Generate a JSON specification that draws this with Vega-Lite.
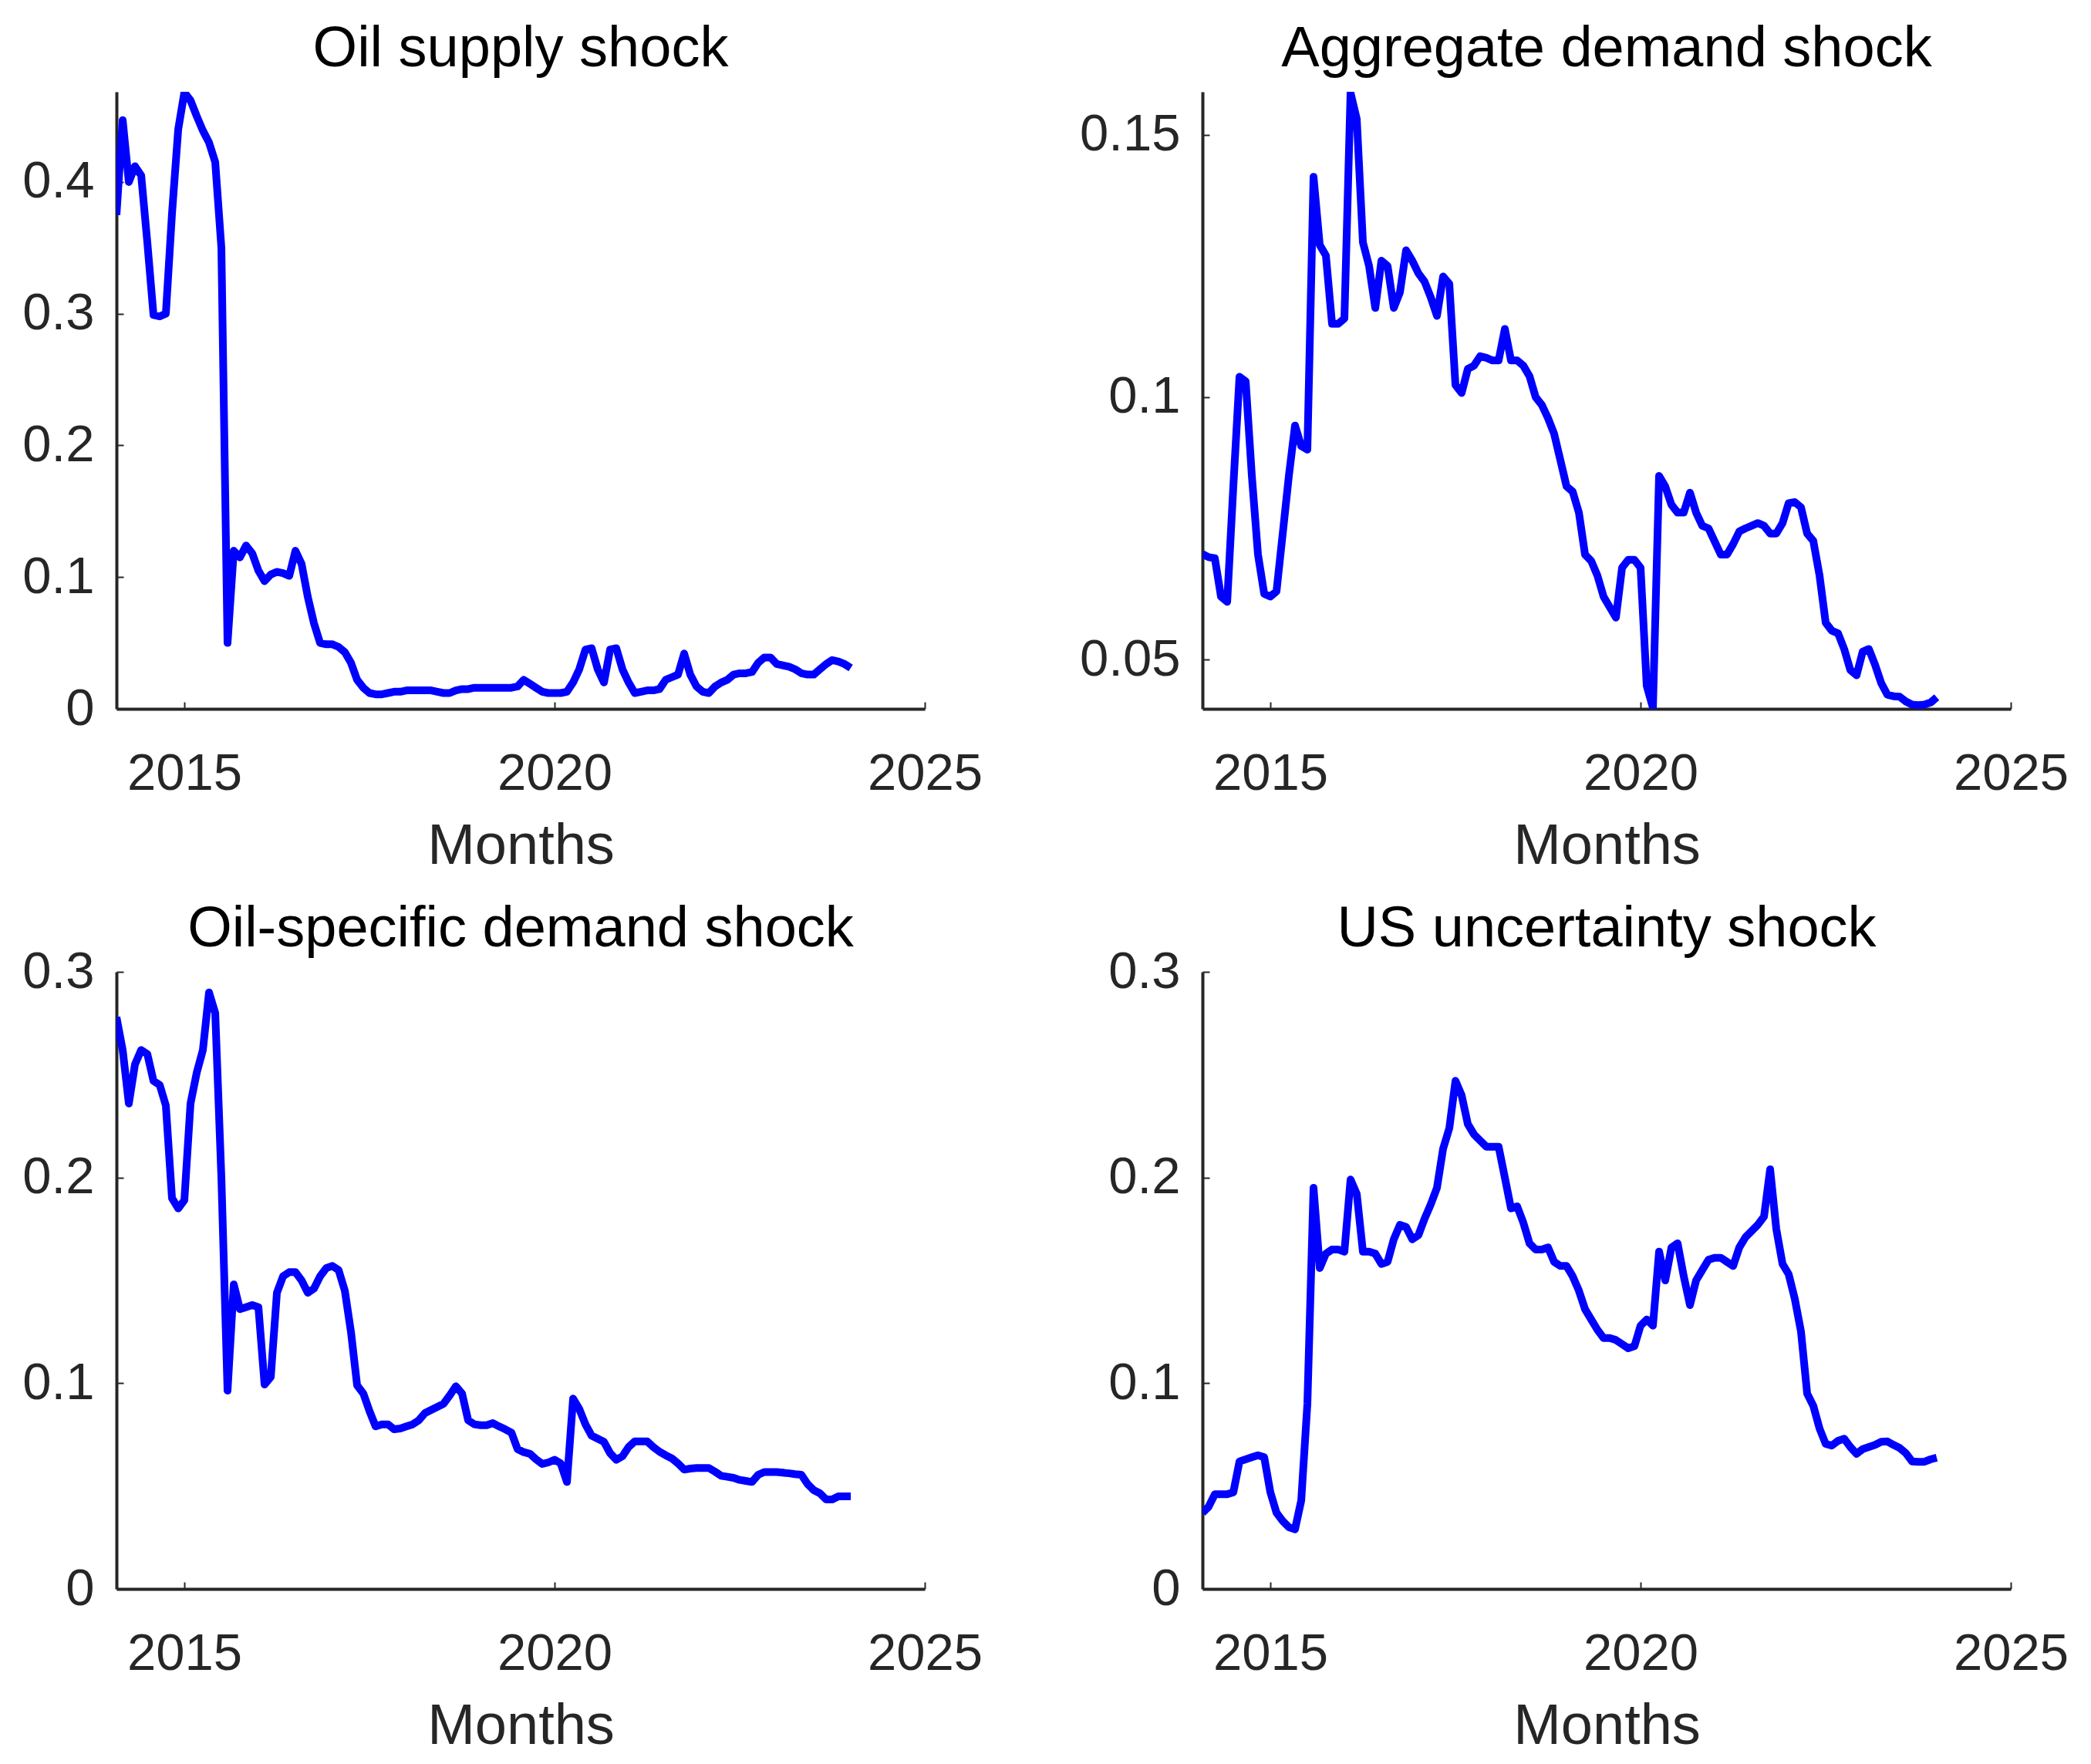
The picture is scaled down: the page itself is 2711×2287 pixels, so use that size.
{
  "$schema": "https://vega.github.io/schema/vega-lite/v6.json",
  "background": "white",
  "padding": {"left": 28, "top": 27, "right": 5, "bottom": 5},
  "columns": 2,
  "spacing": {"row": 341, "column": 360},
  "bounds": "flush",
  "config": {
    "view": {"stroke": null},
    "font": "Liberation Sans",
    "axis": {
      "grid": false,
      "domainColor": "#262626",
      "domainWidth": 4,
      "tickColor": "#262626",
      "tickWidth": 2,
      "tickSize": -9,
      "labelFont": "Liberation Sans",
      "labelFontSize": 67,
      "labelColor": "#262626",
      "labelFlush": false,
      "labelOverlap": false,
      "titleFont": "Liberation Sans",
      "titleFontSize": 74,
      "titleFontWeight": "normal",
      "titleColor": "#262626"
    },
    "axisX": {"labelPadding": 60, "titlePadding": 25},
    "axisY": {"labelPadding": 38},
    "title": {"font": "Liberation Sans", "fontSize": 74, "fontWeight": "normal", "color": "#000000", "offset": 17, "anchor": "middle", "frame": "group"}
  },
  "datasets": {
    "supply": [
      {"t":2014.083,"v":0.375},{"t":2014.167,"v":0.447},{"t":2014.25,"v":0.400},{"t":2014.333,"v":0.412},{"t":2014.417,"v":0.405},{"t":2014.5,"v":0.354},{"t":2014.583,"v":0.299},{"t":2014.667,"v":0.298},{"t":2014.75,"v":0.300},{"t":2014.833,"v":0.376},{"t":2014.917,"v":0.440},{"t":2015,"v":0.468},
      {"t":2015.083,"v":0.462},{"t":2015.167,"v":0.450},{"t":2015.25,"v":0.439},{"t":2015.333,"v":0.430},{"t":2015.417,"v":0.415},{"t":2015.5,"v":0.350},{"t":2015.583,"v":0.050},{"t":2015.667,"v":0.120},{"t":2015.75,"v":0.115},{"t":2015.833,"v":0.124},{"t":2015.917,"v":0.118},{"t":2016,"v":0.105},
      {"t":2016.083,"v":0.097},{"t":2016.167,"v":0.102},{"t":2016.25,"v":0.104},{"t":2016.333,"v":0.103},{"t":2016.417,"v":0.101},{"t":2016.5,"v":0.120},{"t":2016.583,"v":0.110},{"t":2016.667,"v":0.085},{"t":2016.75,"v":0.065},{"t":2016.833,"v":0.050},{"t":2016.917,"v":0.049},{"t":2017,"v":0.049},
      {"t":2017.083,"v":0.047},{"t":2017.167,"v":0.043},{"t":2017.25,"v":0.035},{"t":2017.333,"v":0.022},{"t":2017.417,"v":0.016},{"t":2017.5,"v":0.012},{"t":2017.583,"v":0.011},{"t":2017.667,"v":0.011},{"t":2017.75,"v":0.012},{"t":2017.833,"v":0.013},{"t":2017.917,"v":0.013},{"t":2018,"v":0.014},
      {"t":2018.083,"v":0.014},{"t":2018.167,"v":0.014},{"t":2018.25,"v":0.014},{"t":2018.333,"v":0.014},{"t":2018.417,"v":0.013},{"t":2018.5,"v":0.012},{"t":2018.583,"v":0.012},{"t":2018.667,"v":0.014},{"t":2018.75,"v":0.015},{"t":2018.833,"v":0.015},{"t":2018.917,"v":0.016},{"t":2019,"v":0.016},
      {"t":2019.083,"v":0.016},{"t":2019.167,"v":0.016},{"t":2019.25,"v":0.016},{"t":2019.333,"v":0.016},{"t":2019.417,"v":0.016},{"t":2019.5,"v":0.017},{"t":2019.583,"v":0.022},{"t":2019.667,"v":0.019},{"t":2019.75,"v":0.016},{"t":2019.833,"v":0.013},{"t":2019.917,"v":0.012},{"t":2020,"v":0.012},
      {"t":2020.083,"v":0.012},{"t":2020.167,"v":0.013},{"t":2020.25,"v":0.020},{"t":2020.333,"v":0.030},{"t":2020.417,"v":0.045},{"t":2020.5,"v":0.046},{"t":2020.583,"v":0.030},{"t":2020.667,"v":0.020},{"t":2020.75,"v":0.045},{"t":2020.833,"v":0.046},{"t":2020.917,"v":0.030},{"t":2021,"v":0.020},
      {"t":2021.083,"v":0.012},{"t":2021.167,"v":0.013},{"t":2021.25,"v":0.014},{"t":2021.333,"v":0.014},{"t":2021.417,"v":0.015},{"t":2021.5,"v":0.022},{"t":2021.583,"v":0.024},{"t":2021.667,"v":0.026},{"t":2021.75,"v":0.042},{"t":2021.833,"v":0.026},{"t":2021.917,"v":0.017},{"t":2022,"v":0.013},
      {"t":2022.083,"v":0.012},{"t":2022.167,"v":0.017},{"t":2022.25,"v":0.020},{"t":2022.333,"v":0.022},{"t":2022.417,"v":0.026},{"t":2022.5,"v":0.027},{"t":2022.583,"v":0.027},{"t":2022.667,"v":0.028},{"t":2022.75,"v":0.035},{"t":2022.833,"v":0.039},{"t":2022.917,"v":0.039},{"t":2023,"v":0.034},
      {"t":2023.083,"v":0.033},{"t":2023.167,"v":0.032},{"t":2023.25,"v":0.030},{"t":2023.333,"v":0.027},{"t":2023.417,"v":0.026},{"t":2023.5,"v":0.026},{"t":2023.583,"v":0.030},{"t":2023.667,"v":0.034},{"t":2023.75,"v":0.037},{"t":2023.833,"v":0.036},{"t":2023.917,"v":0.034},{"t":2024,"v":0.031}
    ],
    "agg": [
      {"t":2014.083,"v":0.0701},{"t":2014.167,"v":0.0695},{"t":2014.25,"v":0.0693},{"t":2014.333,"v":0.062},{"t":2014.417,"v":0.061},{"t":2014.5,"v":0.083},{"t":2014.583,"v":0.1039},{"t":2014.667,"v":0.103},{"t":2014.75,"v":0.085},{"t":2014.833,"v":0.07},{"t":2014.917,"v":0.0625},{"t":2015,"v":0.062},
      {"t":2015.083,"v":0.063},{"t":2015.167,"v":0.074},{"t":2015.25,"v":0.085},{"t":2015.333,"v":0.0946},{"t":2015.417,"v":0.0907},{"t":2015.5,"v":0.090},{"t":2015.583,"v":0.142},{"t":2015.667,"v":0.129},{"t":2015.75,"v":0.127},{"t":2015.833,"v":0.114},{"t":2015.917,"v":0.114},{"t":2016,"v":0.115},
      {"t":2016.083,"v":0.158},{"t":2016.167,"v":0.153},{"t":2016.25,"v":0.1295},{"t":2016.333,"v":0.125},{"t":2016.417,"v":0.117},{"t":2016.5,"v":0.126},{"t":2016.583,"v":0.125},{"t":2016.667,"v":0.117},{"t":2016.75,"v":0.12},{"t":2016.833,"v":0.128},{"t":2016.917,"v":0.126},{"t":2017,"v":0.1236},
      {"t":2017.083,"v":0.122},{"t":2017.167,"v":0.119},{"t":2017.25,"v":0.1155},{"t":2017.333,"v":0.123},{"t":2017.417,"v":0.1216},{"t":2017.5,"v":0.1023},{"t":2017.583,"v":0.1008},{"t":2017.667,"v":0.1054},{"t":2017.75,"v":0.106},{"t":2017.833,"v":0.1078},{"t":2017.917,"v":0.1075},{"t":2018,"v":0.107},
      {"t":2018.083,"v":0.107},{"t":2018.167,"v":0.113},{"t":2018.25,"v":0.107},{"t":2018.333,"v":0.107},{"t":2018.417,"v":0.106},{"t":2018.5,"v":0.104},{"t":2018.583,"v":0.1},{"t":2018.667,"v":0.0985},{"t":2018.75,"v":0.096},{"t":2018.833,"v":0.093},{"t":2018.917,"v":0.088},{"t":2019,"v":0.083},
      {"t":2019.083,"v":0.082},{"t":2019.167,"v":0.078},{"t":2019.25,"v":0.070},{"t":2019.333,"v":0.0688},{"t":2019.417,"v":0.066},{"t":2019.5,"v":0.062},{"t":2019.583,"v":0.060},{"t":2019.667,"v":0.058},{"t":2019.75,"v":0.0675},{"t":2019.833,"v":0.069},{"t":2019.917,"v":0.069},{"t":2020,"v":0.0675},
      {"t":2020.083,"v":0.045},{"t":2020.167,"v":0.0408},{"t":2020.25,"v":0.085},{"t":2020.333,"v":0.083},{"t":2020.417,"v":0.0795},{"t":2020.5,"v":0.078},{"t":2020.583,"v":0.078},{"t":2020.667,"v":0.0818},{"t":2020.75,"v":0.078},{"t":2020.833,"v":0.0755},{"t":2020.917,"v":0.075},{"t":2021,"v":0.0725},
      {"t":2021.083,"v":0.070},{"t":2021.167,"v":0.070},{"t":2021.25,"v":0.072},{"t":2021.333,"v":0.0744},{"t":2021.417,"v":0.075},{"t":2021.5,"v":0.0755},{"t":2021.583,"v":0.076},{"t":2021.667,"v":0.0755},{"t":2021.75,"v":0.074},{"t":2021.833,"v":0.074},{"t":2021.917,"v":0.076},{"t":2022,"v":0.0798},
      {"t":2022.083,"v":0.080},{"t":2022.167,"v":0.079},{"t":2022.25,"v":0.074},{"t":2022.333,"v":0.0726},{"t":2022.417,"v":0.066},{"t":2022.5,"v":0.057},{"t":2022.583,"v":0.0555},{"t":2022.667,"v":0.055},{"t":2022.75,"v":0.052},{"t":2022.833,"v":0.048},{"t":2022.917,"v":0.047},{"t":2023,"v":0.0515},
      {"t":2023.083,"v":0.052},{"t":2023.167,"v":0.049},{"t":2023.25,"v":0.0455},{"t":2023.333,"v":0.0433},{"t":2023.417,"v":0.043},{"t":2023.5,"v":0.0429},{"t":2023.583,"v":0.042},{"t":2023.667,"v":0.0414},{"t":2023.75,"v":0.0413},{"t":2023.833,"v":0.0414},{"t":2023.917,"v":0.0418},{"t":2024,"v":0.0428}
    ],
    "oilspec": [
      {"t":2014.083,"v":0.278},{"t":2014.167,"v":0.262},{"t":2014.25,"v":0.236},{"t":2014.333,"v":0.255},{"t":2014.417,"v":0.262},{"t":2014.5,"v":0.26},{"t":2014.583,"v":0.247},{"t":2014.667,"v":0.245},{"t":2014.75,"v":0.235},{"t":2014.833,"v":0.19},{"t":2014.917,"v":0.185},{"t":2015,"v":0.189},
      {"t":2015.083,"v":0.236},{"t":2015.167,"v":0.251},{"t":2015.25,"v":0.262},{"t":2015.333,"v":0.29},{"t":2015.417,"v":0.28},{"t":2015.5,"v":0.2},{"t":2015.583,"v":0.0964},{"t":2015.667,"v":0.148},{"t":2015.75,"v":0.136},{"t":2015.833,"v":0.137},{"t":2015.917,"v":0.138},{"t":2016,"v":0.137},
      {"t":2016.083,"v":0.0994},{"t":2016.167,"v":0.103},{"t":2016.25,"v":0.144},{"t":2016.333,"v":0.152},{"t":2016.417,"v":0.154},{"t":2016.5,"v":0.154},{"t":2016.583,"v":0.15},{"t":2016.667,"v":0.144},{"t":2016.75,"v":0.146},{"t":2016.833,"v":0.152},{"t":2016.917,"v":0.156},{"t":2017,"v":0.157},
      {"t":2017.083,"v":0.155},{"t":2017.167,"v":0.145},{"t":2017.25,"v":0.125},{"t":2017.333,"v":0.099},{"t":2017.417,"v":0.095},{"t":2017.5,"v":0.0865},{"t":2017.583,"v":0.079},{"t":2017.667,"v":0.08},{"t":2017.75,"v":0.08},{"t":2017.833,"v":0.0776},{"t":2017.917,"v":0.078},{"t":2018,"v":0.079},
      {"t":2018.083,"v":0.08},{"t":2018.167,"v":0.082},{"t":2018.25,"v":0.0855},{"t":2018.333,"v":0.087},{"t":2018.417,"v":0.0885},{"t":2018.5,"v":0.09},{"t":2018.583,"v":0.094},{"t":2018.667,"v":0.0985},{"t":2018.75,"v":0.095},{"t":2018.833,"v":0.082},{"t":2018.917,"v":0.08},{"t":2019,"v":0.0796},
      {"t":2019.083,"v":0.0796},{"t":2019.167,"v":0.0806},{"t":2019.25,"v":0.079},{"t":2019.333,"v":0.0776},{"t":2019.417,"v":0.076},{"t":2019.5,"v":0.068},{"t":2019.583,"v":0.0665},{"t":2019.667,"v":0.0657},{"t":2019.75,"v":0.063},{"t":2019.833,"v":0.0608},{"t":2019.917,"v":0.0615},{"t":2020,"v":0.0628},
      {"t":2020.083,"v":0.061},{"t":2020.167,"v":0.052},{"t":2020.25,"v":0.0925},{"t":2020.333,"v":0.0875},{"t":2020.417,"v":0.08},{"t":2020.5,"v":0.0745},{"t":2020.583,"v":0.073},{"t":2020.667,"v":0.0715},{"t":2020.75,"v":0.066},{"t":2020.833,"v":0.0628},{"t":2020.917,"v":0.0645},{"t":2021,"v":0.069},
      {"t":2021.083,"v":0.0717},{"t":2021.167,"v":0.0717},{"t":2021.25,"v":0.0717},{"t":2021.333,"v":0.069},{"t":2021.417,"v":0.0667},{"t":2021.5,"v":0.065},{"t":2021.583,"v":0.0635},{"t":2021.667,"v":0.061},{"t":2021.75,"v":0.058},{"t":2021.833,"v":0.0585},{"t":2021.917,"v":0.0588},{"t":2022,"v":0.0588},
      {"t":2022.083,"v":0.0588},{"t":2022.167,"v":0.057},{"t":2022.25,"v":0.055},{"t":2022.333,"v":0.0545},{"t":2022.417,"v":0.054},{"t":2022.5,"v":0.053},{"t":2022.583,"v":0.0525},{"t":2022.667,"v":0.052},{"t":2022.75,"v":0.0555},{"t":2022.833,"v":0.0568},{"t":2022.917,"v":0.0568},{"t":2023,"v":0.0568},
      {"t":2023.083,"v":0.0565},{"t":2023.167,"v":0.0562},{"t":2023.25,"v":0.0558},{"t":2023.333,"v":0.0555},{"t":2023.417,"v":0.051},{"t":2023.5,"v":0.048},{"t":2023.583,"v":0.0465},{"t":2023.667,"v":0.0435},{"t":2023.75,"v":0.0435},{"t":2023.833,"v":0.045},{"t":2023.917,"v":0.045},{"t":2024,"v":0.045}
    ],
    "unc": [
      {"t":2014.083,"v":0.037},{"t":2014.167,"v":0.040},{"t":2014.25,"v":0.046},{"t":2014.333,"v":0.046},{"t":2014.417,"v":0.046},{"t":2014.5,"v":0.047},{"t":2014.583,"v":0.062},{"t":2014.667,"v":0.063},{"t":2014.75,"v":0.064},{"t":2014.833,"v":0.065},{"t":2014.917,"v":0.064},{"t":2015,"v":0.047},
      {"t":2015.083,"v":0.037},{"t":2015.167,"v":0.033},{"t":2015.25,"v":0.03},{"t":2015.333,"v":0.029},{"t":2015.417,"v":0.043},{"t":2015.5,"v":0.09},{"t":2015.583,"v":0.195},{"t":2015.667,"v":0.156},{"t":2015.75,"v":0.163},{"t":2015.833,"v":0.165},{"t":2015.917,"v":0.165},{"t":2016,"v":0.164},
      {"t":2016.083,"v":0.199},{"t":2016.167,"v":0.192},{"t":2016.25,"v":0.164},{"t":2016.333,"v":0.164},{"t":2016.417,"v":0.163},{"t":2016.5,"v":0.158},{"t":2016.583,"v":0.159},{"t":2016.667,"v":0.17},{"t":2016.75,"v":0.177},{"t":2016.833,"v":0.176},{"t":2016.917,"v":0.17},{"t":2017,"v":0.172},
      {"t":2017.083,"v":0.18},{"t":2017.167,"v":0.187},{"t":2017.25,"v":0.195},{"t":2017.333,"v":0.214},{"t":2017.417,"v":0.224},{"t":2017.5,"v":0.247},{"t":2017.583,"v":0.24},{"t":2017.667,"v":0.226},{"t":2017.75,"v":0.221},{"t":2017.833,"v":0.218},{"t":2017.917,"v":0.215},{"t":2018,"v":0.215},
      {"t":2018.083,"v":0.215},{"t":2018.167,"v":0.2},{"t":2018.25,"v":0.185},{"t":2018.333,"v":0.186},{"t":2018.417,"v":0.178},{"t":2018.5,"v":0.168},{"t":2018.583,"v":0.165},{"t":2018.667,"v":0.165},{"t":2018.75,"v":0.166},{"t":2018.833,"v":0.159},{"t":2018.917,"v":0.157},{"t":2019,"v":0.157},
      {"t":2019.083,"v":0.152},{"t":2019.167,"v":0.145},{"t":2019.25,"v":0.136},{"t":2019.333,"v":0.131},{"t":2019.417,"v":0.126},{"t":2019.5,"v":0.122},{"t":2019.583,"v":0.122},{"t":2019.667,"v":0.121},{"t":2019.75,"v":0.119},{"t":2019.833,"v":0.117},{"t":2019.917,"v":0.118},{"t":2020,"v":0.128},
      {"t":2020.083,"v":0.131},{"t":2020.167,"v":0.128},{"t":2020.25,"v":0.164},{"t":2020.333,"v":0.15},{"t":2020.417,"v":0.166},{"t":2020.5,"v":0.168},{"t":2020.583,"v":0.152},{"t":2020.667,"v":0.138},{"t":2020.75,"v":0.15},{"t":2020.833,"v":0.155},{"t":2020.917,"v":0.16},{"t":2021,"v":0.161},
      {"t":2021.083,"v":0.161},{"t":2021.167,"v":0.159},{"t":2021.25,"v":0.157},{"t":2021.333,"v":0.166},{"t":2021.417,"v":0.171},{"t":2021.5,"v":0.174},{"t":2021.583,"v":0.177},{"t":2021.667,"v":0.181},{"t":2021.75,"v":0.204},{"t":2021.833,"v":0.175},{"t":2021.917,"v":0.158},{"t":2022,"v":0.153},
      {"t":2022.083,"v":0.141},{"t":2022.167,"v":0.125},{"t":2022.25,"v":0.095},{"t":2022.333,"v":0.089},{"t":2022.417,"v":0.078},{"t":2022.5,"v":0.0705},{"t":2022.583,"v":0.0697},{"t":2022.667,"v":0.072},{"t":2022.75,"v":0.073},{"t":2022.833,"v":0.069},{"t":2022.917,"v":0.0657},{"t":2023,"v":0.068},
      {"t":2023.083,"v":0.069},{"t":2023.167,"v":0.07},{"t":2023.25,"v":0.0715},{"t":2023.333,"v":0.0717},{"t":2023.417,"v":0.07},{"t":2023.5,"v":0.0685},{"t":2023.583,"v":0.066},{"t":2023.667,"v":0.062},{"t":2023.75,"v":0.0618},{"t":2023.833,"v":0.0618},{"t":2023.917,"v":0.063},{"t":2024,"v":0.0638}
    ]
  },
  "concat": [
    {
      "title": {"text": "Oil supply shock", "offset": 17},
      "width": 1048, "height": 800,
      "data": {"name": "supply"},
      "mark": {"type": "line", "color": "#0000ff", "strokeWidth": 10, "strokeJoin": "round", "clip": true},
      "encoding": {
        "x": {"field": "t", "type": "quantitative", "scale": {"domain": [2014.083, 2025], "nice": false, "zero": false}, "axis": {"values": [2015, 2020, 2025], "format": "d", "title": "Months"}},
        "y": {"field": "v", "type": "quantitative", "scale": {"domain": [0, 0.4685], "nice": false, "zero": false}, "axis": {"values": [0, 0.1, 0.2, 0.3, 0.4], "format": "~g", "title": null}}
      }
    },
    {
      "title": {"text": "Aggregate demand shock", "offset": 17},
      "width": 1048, "height": 800,
      "data": {"name": "agg"},
      "mark": {"type": "line", "color": "#0000ff", "strokeWidth": 10, "strokeJoin": "round", "clip": true},
      "encoding": {
        "x": {"field": "t", "type": "quantitative", "scale": {"domain": [2014.083, 2025], "nice": false, "zero": false}, "axis": {"values": [2015, 2020, 2025], "format": "d", "title": "Months"}},
        "y": {"field": "v", "type": "quantitative", "scale": {"domain": [0.0406, 0.1582], "nice": false, "zero": false}, "axis": {"values": [0.05, 0.1, 0.15], "format": "~g", "title": null}}
      }
    },
    {
      "title": {"text": "Oil-specific demand shock", "offset": -17},
      "width": 1048, "height": 800,
      "data": {"name": "oilspec"},
      "mark": {"type": "line", "color": "#0000ff", "strokeWidth": 10, "strokeJoin": "round", "clip": true},
      "encoding": {
        "x": {"field": "t", "type": "quantitative", "scale": {"domain": [2014.083, 2025], "nice": false, "zero": false}, "axis": {"values": [2015, 2020, 2025], "format": "d", "title": "Months"}},
        "y": {"field": "v", "type": "quantitative", "scale": {"domain": [0, 0.3], "nice": false, "zero": false}, "axis": {"values": [0, 0.1, 0.2, 0.3], "format": "~g", "title": null}}
      }
    },
    {
      "title": {"text": "US uncertainty shock", "offset": -17},
      "width": 1048, "height": 800,
      "data": {"name": "unc"},
      "mark": {"type": "line", "color": "#0000ff", "strokeWidth": 10, "strokeJoin": "round", "clip": true},
      "encoding": {
        "x": {"field": "t", "type": "quantitative", "scale": {"domain": [2014.083, 2025], "nice": false, "zero": false}, "axis": {"values": [2015, 2020, 2025], "format": "d", "title": "Months"}},
        "y": {"field": "v", "type": "quantitative", "scale": {"domain": [0, 0.3], "nice": false, "zero": false}, "axis": {"values": [0, 0.1, 0.2, 0.3], "format": "~g", "title": null}}
      }
    }
  ]
}
